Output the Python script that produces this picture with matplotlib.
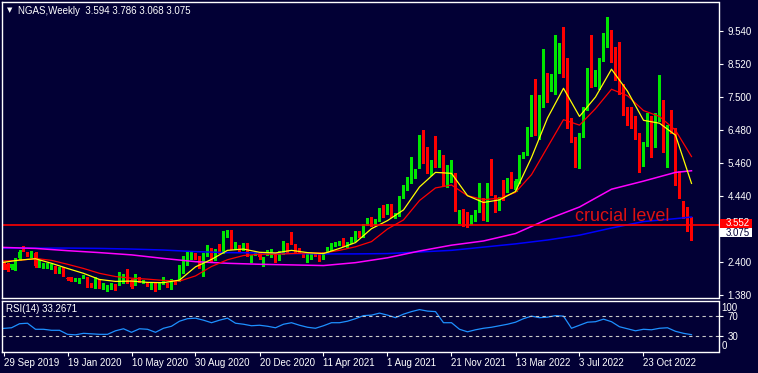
import numpy as np
import matplotlib.pyplot as plt
from matplotlib.patches import Rectangle

# ==============================================================================
# DATA (weekly NGAS candles)
# ==============================================================================
opens = [2.36, 2.34, 2.20, 2.20, 2.51, 2.84, 2.66, 2.57, 2.68, 2.31,
         2.23, 2.27, 2.23, 2.24, 2.10, 2.20, 1.92, 1.93, 1.84, 1.77,
         1.93, 1.90, 1.72, 1.61, 1.84, 1.59, 1.53, 1.59, 1.69, 1.74,
         1.79, 1.93, 1.84, 1.71, 1.87, 1.79, 1.74, 1.59, 1.74, 1.59,
         1.74, 1.71, 1.61, 1.79, 1.84, 2.15, 2.36, 2.51, 2.64, 2.54,
         2.25, 2.62, 2.79, 2.48, 2.93, 2.72, 3.20, 3.34, 2.82, 2.87,
         2.80, 2.93, 2.44, 2.66, 2.67, 2.31, 2.67, 2.59, 2.64, 2.49,
         2.69, 2.82, 3.03, 2.93, 2.77, 2.64, 2.48, 2.52, 2.64, 2.62,
         2.51, 2.72, 2.77, 2.95, 2.97, 3.06, 2.90, 3.01, 3.08, 3.31,
         3.20, 3.57, 3.75, 3.62, 3.70, 4.03, 3.92, 4.16, 3.80, 3.85,
         4.42, 4.68, 4.91, 5.04, 5.35, 5.74, 5.74, 5.12, 5.71, 5.37,
         5.65, 4.78, 4.93, 5.09, 3.78, 3.99, 3.72, 3.62, 3.72, 4.27,
         4.32, 3.70, 4.93, 4.42, 4.06, 4.54, 4.60, 5.06, 4.63, 4.88,
         5.66, 5.76, 6.33, 7.49, 6.30, 7.46, 8.13, 7.80, 8.15, 8.76,
         8.85, 8.64, 6.69, 6.19, 5.68, 6.32, 7.15, 8.36, 7.92, 7.82,
         8.66, 9.14, 9.50, 8.97, 8.08, 7.67, 7.05, 6.87, 6.69, 6.30,
         5.43, 6.05, 6.81, 5.99, 6.81, 7.28, 5.84, 6.87, 6.50, 5.14,
         4.23, 3.80, 3.594]
highs = [2.40, 2.36, 2.35, 2.51, 2.77, 2.90, 2.72, 2.75, 2.72, 2.46,
         2.36, 2.36, 2.34, 2.27, 2.26, 2.24, 1.95, 1.95, 1.90, 1.90,
         2.00, 1.93, 1.75, 1.93, 1.87, 1.74, 1.70, 1.74, 1.72, 2.08,
         2.02, 2.18, 1.87, 2.03, 1.93, 1.85, 1.79, 1.74, 1.76, 1.74,
         1.95, 1.74, 1.87, 1.82, 2.30, 2.60, 2.72, 2.72, 2.68, 2.58,
         2.68, 2.93, 2.83, 2.80, 2.97, 3.37, 3.40, 3.39, 3.03, 2.92,
         3.00, 3.00, 2.62, 2.72, 2.72, 2.54, 2.78, 2.80, 2.68, 2.74,
         3.05, 2.98, 3.34, 2.97, 2.82, 2.68, 2.66, 2.66, 2.68, 2.66,
         2.71, 2.85, 3.00, 3.03, 3.04, 3.13, 3.03, 3.16, 3.37, 3.36,
         3.58, 3.75, 3.80, 3.74, 4.06, 4.16, 4.20, 4.20, 3.92, 4.43,
         4.78, 5.03, 5.65, 5.26, 6.33, 6.48, 5.96, 5.55, 6.29, 5.86,
         5.70, 5.40, 5.55, 5.14, 4.01, 4.03, 3.95, 3.84, 4.00, 4.85,
         4.37, 4.85, 5.57, 4.47, 4.42, 4.93, 5.00, 5.19, 4.96, 5.72,
         5.81, 6.56, 7.55, 8.05, 7.55, 8.97, 8.23, 8.20, 9.42, 9.16,
         9.67, 8.70, 6.84, 6.25, 6.40, 7.20, 8.39, 9.42, 8.35, 8.70,
         9.47, 9.98, 9.57, 9.05, 9.21, 7.90, 7.20, 7.20, 6.92, 6.40,
         6.10, 7.02, 6.90, 7.00, 8.18, 7.40, 6.62, 7.10, 6.55, 5.20,
         4.28, 4.11, 3.786]
lows = [2.17, 2.12, 2.17, 2.15, 2.46, 2.74, 2.57, 2.54, 2.25, 2.25,
        2.20, 2.22, 2.18, 2.05, 2.07, 1.96, 1.85, 1.80, 1.80, 1.74,
        1.90, 1.62, 1.63, 1.59, 1.59, 1.56, 1.50, 1.57, 1.53, 1.70,
        1.74, 1.76, 1.60, 1.68, 1.77, 1.74, 1.65, 1.55, 1.51, 1.56,
        1.72, 1.62, 1.58, 1.71, 1.82, 2.05, 2.30, 2.48, 2.50, 2.20,
        1.97, 2.58, 2.42, 2.45, 2.68, 2.68, 3.16, 2.80, 2.79, 2.72,
        2.76, 2.60, 2.40, 2.62, 2.50, 2.28, 2.62, 2.56, 2.40, 2.46,
        2.66, 2.70, 2.95, 2.72, 2.70, 2.54, 2.40, 2.49, 2.58, 2.42,
        2.48, 2.69, 2.74, 2.88, 2.93, 2.90, 2.87, 2.98, 3.05, 3.16,
        3.16, 3.54, 3.50, 3.58, 3.66, 3.80, 3.88, 3.80, 3.76, 3.82,
        4.38, 4.64, 4.83, 4.99, 5.30, 5.45, 5.14, 5.08, 5.35, 5.33,
        4.74, 4.73, 4.88, 3.98, 3.60, 3.52, 3.49, 3.58, 3.68, 3.96,
        3.70, 3.66, 4.47, 3.94, 4.02, 4.32, 4.55, 4.70, 4.58, 4.84,
        5.62, 5.72, 6.28, 6.33, 6.20, 7.20, 7.36, 7.70, 7.60, 8.23,
        8.13, 6.55, 6.12, 5.35, 5.30, 6.25, 7.10, 7.82, 7.85, 7.75,
        8.60, 9.05, 8.59, 8.02, 7.60, 6.95, 6.65, 6.53, 6.20, 5.19,
        5.38, 6.00, 5.65, 5.94, 6.76, 5.80, 5.33, 6.40, 4.78, 4.38,
        3.76, 3.37, 3.068]
closes = [2.20, 2.15, 2.33, 2.48, 2.72, 2.80, 2.62, 2.72, 2.29, 2.34,
          2.31, 2.31, 2.29, 2.08, 2.23, 1.98, 1.87, 1.82, 1.85, 1.87,
          1.97, 1.64, 1.66, 1.88, 1.64, 1.69, 1.64, 1.71, 1.66, 1.84,
          1.84, 1.79, 1.64, 1.90, 1.82, 1.80, 1.67, 1.71, 1.53, 1.71,
          1.79, 1.64, 1.84, 1.74, 2.26, 2.37, 2.56, 2.69, 2.54, 2.25,
          2.65, 2.82, 2.46, 2.77, 2.72, 3.20, 3.39, 2.87, 2.98, 2.75,
          2.84, 2.72, 2.58, 2.68, 2.54, 2.50, 2.74, 2.77, 2.44, 2.62,
          2.90, 2.78, 2.98, 2.75, 2.74, 2.57, 2.62, 2.62, 2.62, 2.46,
          2.64, 2.82, 2.98, 2.98, 3.00, 2.93, 3.00, 3.13, 3.31, 3.20,
          3.54, 3.70, 3.68, 3.68, 4.03, 3.90, 4.16, 3.85, 3.85, 4.39,
          4.73, 4.99, 5.09, 5.22, 5.60, 5.60, 5.40, 5.50, 5.50, 5.63,
          4.78, 5.14, 5.50, 4.03, 3.88, 3.60, 3.60, 3.80, 3.96, 4.32,
          3.75, 4.65, 4.52, 3.99, 4.37, 4.47, 4.95, 4.75, 4.91, 5.68,
          5.76, 6.36, 7.49, 6.38, 7.45, 8.13, 7.80, 8.15, 8.80, 8.85,
          8.62, 6.63, 6.19, 5.68, 6.36, 7.15, 8.36, 7.90, 8.28, 8.66,
          9.18, 9.50, 8.97, 8.08, 7.67, 7.02, 6.74, 6.69, 6.27, 5.45,
          6.05, 6.97, 5.99, 6.81, 7.28, 5.84, 6.58, 6.48, 5.27, 4.42,
          3.80, 3.59, 3.075]

# moving averages, read every 4 bars (fast / slow) and every 8 bars (long ones)
ma_step4 = list(range(0, 173, 4))
ma_yellow = [2.39, 2.46, 2.50, 2.36, 2.20, 2.05, 1.86, 1.80, 1.81, 1.77,
             1.76, 1.84, 2.25, 2.48, 2.76, 2.80, 2.70, 2.68, 2.76, 2.69,
             2.66, 2.82, 3.00, 3.43, 3.68, 4.01, 4.72, 5.17, 5.14, 4.45,
             4.24, 4.32, 4.58, 5.63, 6.85, 7.77, 6.90, 7.50, 8.36, 7.68,
             6.78, 6.69, 6.32, 4.83]
ma_red = [2.43, 2.45, 2.51, 2.45, 2.33, 2.20, 2.05, 1.95, 1.90, 1.87,
          1.83, 1.81, 1.97, 2.26, 2.47, 2.60, 2.64, 2.64, 2.66, 2.68,
          2.68, 2.76, 2.87, 3.03, 3.42, 3.70, 4.30, 4.69, 4.78, 4.45,
          4.33, 4.37, 4.55, 5.10, 5.95, 6.80, 6.63, 7.14, 7.74, 7.54,
          7.08, 6.90, 6.47, 5.66]
ma_step8 = list(range(0, 169, 8)) + [172]
ma_magenta = [2.85, 2.82, 2.75, 2.69, 2.62, 2.51, 2.41, 2.36, 2.33, 2.31,
              2.29, 2.38, 2.53, 2.74, 2.92, 3.05, 3.28, 3.72, 4.10, 4.65,
              4.90, 5.17, 5.22]
ma_blue = [2.83, 2.83, 2.83, 2.82, 2.80, 2.77, 2.72, 2.69, 2.68, 2.66,
           2.65, 2.65, 2.66, 2.71, 2.76, 2.86, 2.96, 3.08, 3.23, 3.45,
           3.65, 3.74, 3.79]

# RSI(14), read every 2 bars
rsi_step = list(range(0, 173, 2))
rsi = [45.7, 47, 55, 56, 44, 44, 42, 42, 34, 33,
       36, 35, 34, 34, 41, 45, 38, 45, 44, 38,
       46, 50, 60, 65, 66, 62, 57, 62, 66, 56,
       54, 51, 52, 50, 47, 54, 57, 52, 48, 46,
       51, 57, 57, 60, 65, 71, 72, 76, 72, 67,
       74, 79, 83, 80, 79, 57, 57, 44, 39, 43,
       46, 48, 51, 54, 58, 65, 70, 67, 68, 71,
       70, 46, 52, 58, 59, 64, 59, 49, 45, 41,
       44, 43, 46, 47, 40, 36, 33.3]

price_ticks = [1.380, 2.400, 3.420, 4.440, 5.460, 6.480, 7.500, 8.520, 9.540]
date_ticks = [0, 16, 32, 48, 64, 80, 96, 112, 128, 144, 160]
date_labels = ['29 Sep 2019', '19 Jan 2020', '10 May 2020', '30 Aug 2020',
               '20 Dec 2020', '11 Apr 2021', '1 Aug 2021', '21 Nov 2021',
               '13 Mar 2022', '3 Jul 2022', '23 Oct 2022']
crucial = 3.552
last_price = 3.075

# ==============================================================================
# STYLE
# ==============================================================================
BG = '#020035'
BULL = '#00e600'
BEAR = '#ff0000'
plt.rcParams['font.family'] = ['Liberation Sans', 'DejaVu Sans']
plt.rcParams['font.size'] = 7

fig = plt.figure(figsize=(7.58, 3.73), dpi=100, facecolor=BG)
ax = fig.add_axes([2 / 758, 1 - 298 / 373, 716.5 / 758, 296 / 373], facecolor=BG)
ax_rsi = fig.add_axes([2 / 758, 1 - 351.5 / 373, 716.5 / 758, 50.5 / 373], facecolor=BG)

for a in (ax, ax_rsi):
    for s in a.spines.values():
        s.set_color('white')
        s.set_linewidth(1)
    a.tick_params(colors='white', labelcolor='white', length=3, width=0.8)

# ==============================================================================
# MAIN PANEL: candles + moving averages
# ==============================================================================
o, h, l, c = map(np.array, (opens, highs, lows, closes))
idx = np.arange(len(c))
col = np.where(c >= o, BULL, BEAR)
ax.vlines(idx, l, h, colors=col, linewidth=0.8, antialiased=False)
ax.bar(idx, np.maximum(np.abs(c - o), 0.02), bottom=np.minimum(o, c),
       width=0.72, color=col, linewidth=0, antialiased=False)

ax.plot(ma_step8, ma_blue, color='#0000ff', lw=1.1)
ax.plot(ma_step8, ma_magenta, color='#ff00ff', lw=1.1)
ax.plot(ma_step4, ma_red, color='#ff0000', lw=0.9)
ax.plot(ma_step4, ma_yellow, color='#ffff00', lw=0.9)

ax.axhline(crucial, color='#ff0000', lw=1.2)
ax.text(143, 3.67, 'crucial level', color='#dd1111', fontsize=13, va='baseline')

ax.set_xlim(-0.375, 178.75)
ax.set_ylim(1.287, 10.437)
ax.set_xticks([])
ax.yaxis.tick_right()
ax.set_yticks(price_ticks)
ax.set_yticklabels(['%.3f' % p for p in price_ticks])

# price boxes on the right scale (they hide the 3.420 label, as in MT4)
trans = ax.get_yaxis_transform()
ax.add_patch(Rectangle((1.0015, crucial - 0.09), 0.0447, 0.28, transform=trans,
                       fc='#ff0000', ec='none', clip_on=False, zorder=5))
ax.text(1.0095, crucial + 0.05, '%.3f' % crucial, transform=trans, color='white',
        va='center', ha='left', zorder=6, clip_on=False)
ax.add_patch(Rectangle((1.0015, 3.17), 0.0447, 0.28, transform=trans,
                       fc='white', ec='none', clip_on=False, zorder=5))
ax.text(1.0095, 3.31, '%.3f' % last_price, transform=trans, color=BG,
        va='center', ha='left', zorder=6, clip_on=False)
for t in ax.get_yticklabels():
    if t.get_text() == '3.420':
        t.set_visible(False)

fig.text(7 / 758, 1 - 10.5 / 373, '\u25bc', color='white', fontsize=5, va='center',
         family='DejaVu Sans')
fig.text(18 / 758, 1 - 10.5 / 373, 'NGAS,Weekly  3.594 3.786 3.068 3.075',
         color='white', va='center')

# ==============================================================================
# RSI PANEL
# ==============================================================================
ax_rsi.plot(rsi_step, rsi, color='#1e90ff', lw=0.9)
for lvl in (70, 30):
    ax_rsi.axhline(lvl, color='#c8c8c8', lw=0.8, ls=(0, (3, 3)))
ax_rsi.text(0.006, 0.84, 'RSI(14) 33.2671', transform=ax_rsi.transAxes,
            color='white', va='center')
ax_rsi.set_xlim(-0.375, 178.75)
ax_rsi.set_ylim(0, 100)
ax_rsi.yaxis.tick_right()
ax_rsi.set_yticks([70, 30])
ax_rsi.set_yticklabels(['70', '30'])
rtrans = ax_rsi.get_yaxis_transform()
ax_rsi.text(1.004, 87, '100', transform=rtrans, color='white', va='center')
ax_rsi.text(1.004, 10, '0', transform=rtrans, color='white', va='center')
ax_rsi.set_xticks(date_ticks)
ax_rsi.set_xticklabels(date_labels, ha='left')
ax_rsi.tick_params(axis='x', pad=2)

fig.savefig('out.png', dpi=100, facecolor=BG)
